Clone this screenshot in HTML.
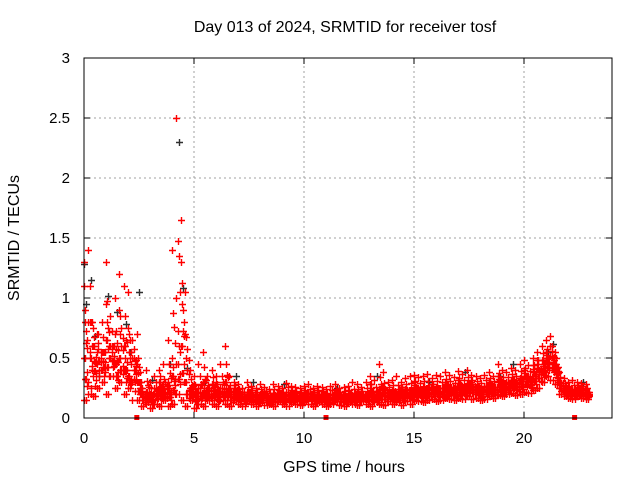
<!DOCTYPE html>
<html><head><meta charset="utf-8"><style>
body{margin:0;background:#fff;}
svg{display:block;font-family:"Liberation Sans",sans-serif;}
</style></head><body>
<svg id="chart" width="640" height="480">
<text x="345" y="32" font-size="16" text-anchor="middle">Day 013 of 2024, SRMTID for receiver tosf</text>
<text x="344" y="472" font-size="16" text-anchor="middle">GPS time / hours</text>
<text transform="translate(19,238) rotate(-90)" font-size="16" text-anchor="middle">SRMTID / TECUs</text>
<g id="grid"></g><g id="ticks"></g><g id="blk"></g><g id="red"></g>
<rect x="84" y="58" width="528" height="360" fill="none" stroke="#000"/>
</svg>
<script>
const xTicks=[0,5,10,15,20];
const yTicks=[0,0.5,1,1.5,2,2.5,3];
const yTickLabels=["0","0.5","1","1.5","2","2.5","3"];
const hours=[0,0.2,0.4,0.6,0.8,1,1.2,1.4,1.6,1.8,2,2.2,2.4,2.6,2.8,3,3.2,3.4,3.6,3.8,4,4.2,4.4,4.6,4.8,5,5.2,5.4,5.6,5.8,6,6.2,6.4,6.6,6.8,7,7.2,7.4,7.6,7.8,8,8.2,8.4,8.6,8.8,9,9.2,9.4,9.6,9.8,10,10.2,10.4,10.6,10.8,11,11.2,11.4,11.6,11.8,12,12.2,12.4,12.6,12.8,13,13.2,13.4,13.6,13.8,14,14.2,14.4,14.6,14.8,15,15.2,15.4,15.6,15.8,16,16.2,16.4,16.6,16.8,17,17.2,17.4,17.6,17.8,18,18.2,18.4,18.6,18.8,19,19.2,19.4,19.6,19.8,20,20.2,20.4,20.6,20.8,21,21.2,21.4,21.6,21.8,22,22.2,22.4,22.6,22.8];
const lowVals=[.15,.2,.18,.25,.3,.2,.35,.25,.3,.2,.25,.3,.15,.1,.15,.08,.12,.1,.15,.1,.12,.2,.15,.1,.15,.08,.12,.1,.15,.12,.1,.15,.12,.1,.15,.12,.1,.14,.12,.1,.13,.11,.12,.1,.14,.12,.1,.13,.12,.11,.14,.12,.1,.13,.12,.1,.12,.14,.11,.1,.13,.12,.11,.14,.12,.1,.13,.12,.11,.14,.12,.13,.11,.14,.12,.15,.14,.13,.15,.16,.14,.15,.17,.16,.15,.17,.16,.18,.16,.17,.15,.16,.18,.17,.19,.18,.2,.21,.19,.2,.22,.21,.23,.25,.3,.35,.32,.28,.2,.18,.17,.16,.18,.17,.16];
const midVals=[.5,.8,.6,.7,.55,.65,.6,.45,.5,.6,.35,.5,.3,.2,.22,.2,.25,.3,.2,.25,.35,.45,.6,.3,.25,.2,.25,.3,.2,.28,.22,.25,.3,.2,.25,.2,.18,.22,.2,.18,.2,.19,.17,.21,.2,.18,.22,.2,.19,.18,.2,.21,.18,.2,.19,.17,.2,.21,.18,.19,.2,.18,.21,.19,.2,.22,.2,.24,.21,.22,.23,.2,.22,.24,.23,.25,.24,.26,.25,.24,.26,.25,.27,.26,.25,.27,.26,.28,.27,.26,.25,.27,.28,.26,.3,.29,.3,.32,.3,.33,.35,.34,.38,.42,.48,.5,.52,.45,.3,.25,.24,.23,.25,.24,.22];
const highVals=[1.1,1.4,.75,.45,.8,1.3,.85,1,1.2,1.1,.75,.65,.7,.3,.4,.3,.35,.4,.45,.3,.5,1,1.3,.7,.4,.35,.45,.55,.35,.4,.35,.45,.6,.35,.3,.28,.25,.3,.27,.25,.28,.26,.24,.28,.27,.25,.29,.27,.26,.25,.27,.28,.25,.27,.26,.24,.27,.28,.25,.26,.27,.3,.28,.26,.3,.35,.32,.45,.38,.3,.32,.35,.3,.33,.35,.36,.34,.35,.37,.33,.36,.35,.38,.36,.34,.39,.37,.4,.36,.35,.33,.36,.38,.35,.45,.4,.38,.42,.4,.45,.48,.44,.5,.55,.6,.65,.68,.55,.38,.33,.3,.32,.3,.29,.28];
const extraVals=[1.3,.3,.35,.55,.4,.95,.5,.7,.9,.4,1.05,.15,.45,.25,.12,.18,.2,.22,.28,.65,1.4,2.5,1.65,1.05,.2,.28,.18,.2,.25,.18,.3,.2,.18,.25,.2,.16,.22,.18,.15,.2,.17,.22,.15,.16,.19,.21,.16,.17,.22,.15,.16,.2,.22,.15,.17,.2,.15,.17,.22,.16,.15,.19,.2,.17,.16,.28,.18,.2,.25,.19,.17,.22,.26,.2,.18,.3,.21,.2,.22,.28,.23,.2,.3,.22,.21,.32,.23,.24,.3,.22,.2,.24,.3,.23,.35,.25,.27,.3,.28,.32,.4,.3,.44,.48,.38,.55,.6,.4,.25,.22,.2,.22,.21,.2,.19];
const blackHours=[0,0.1,0.3,0.5,0.7,1.1,1.5,1.9,2.1,2.5,3.1,3.9,4.3,4.5,4.7,5.5,6.9,7.7,9.1,11.5,13.3,15.7,17.3,18.9,19.5,21.1,21.3,21.9,22.5,22.7];
const blackVals=[1.28,.95,1.15,.68,.35,1.02,.88,.78,.55,1.05,.32,.45,2.3,1.08,.42,.3,.35,.3,.28,.25,.35,.3,.38,.35,.45,.55,.62,.25,.22,.3];
const zeroMarks=[2.4,11.0,22.3];

const NS="http://www.w3.org/2000/svg";
const X0=84,X1=612,Y0=418,Y1=58;
const xs=h=>X0+h*(X1-X0)/24;
const ys=v=>Y0-v*(Y0-Y1)/3;
function mk(tag,attrs,parent){const e=document.createElementNS(NS,tag);for(const k in attrs)e.setAttribute(k,attrs[k]);parent.appendChild(e);return e;}
const grid=document.getElementById('grid'),ticks=document.getElementById('ticks');
xTicks.forEach(t=>{
  const x=xs(t);
  if(t>0){const g=mk('line',{x1:x,x2:x,y1:Y0,y2:Y1,stroke:'#a0a0a0','stroke-dasharray':'2,3'},grid);
  
  }
  const a=mk('path',{d:`M${x},${Y0}v-6M${x},${Y1}v6`,stroke:'#000'},ticks);
  
  
  const l=mk('text',{x:x,y:Y0+25,'font-size':15,'text-anchor':'middle'},ticks);l.textContent=t;
  
  
});
yTicks.forEach((t,i)=>{
  const y=ys(t);
  if(t>0&&t<3){const g=mk('line',{x1:X0,x2:X1,y1:y,y2:y,stroke:'#a0a0a0','stroke-dasharray':'2,3'},grid);
  
  }
  const a=mk('path',{d:`M${X0},${y}h6M${X1},${y}h-6`,stroke:'#000'},ticks);
  
  
  const l=mk('text',{x:X0-14,y:y+5,'font-size':15,'text-anchor':'end'},ticks);l.textContent=yTickLabels[i];
  
  
});
function plus(h,v,col,parent){
  const x=Math.round(xs(h))+0.5,y=Math.round(ys(v))+0.5;
  const p=mk('path',{d:`M${x-3.5},${y}h7M${x},${y-3.5}v7`,stroke:col,'stroke-width':1.4},parent);
  
  
}
const blk=document.getElementById('blk'),red=document.getElementById('red');
blackHours.forEach((h,i)=>plus(h,blackVals[i],'#303030',blk));
const series=[lowVals,midVals,highVals,extraVals];
series.forEach(arr=>hours.forEach((h,i)=>{
  plus(h,arr[i],'#ff0000',red);
  plus(h+0.1,(arr[i]+lowVals[i])/2,'#ff0000',red);
  plus(h+0.05,(arr[i]+midVals[i])/2,'#ff0000',red);
  plus(h+0.15,(arr[i]+midVals[i]+lowVals[i])/3,'#ff0000',red);
}));
zeroMarks.forEach(h=>{
  const r=mk('rect',{x:xs(h)-2.5,y:Y0-3,width:5,height:5,fill:'#ff0000'},red);
  
  
});
</script>
</body></html>
